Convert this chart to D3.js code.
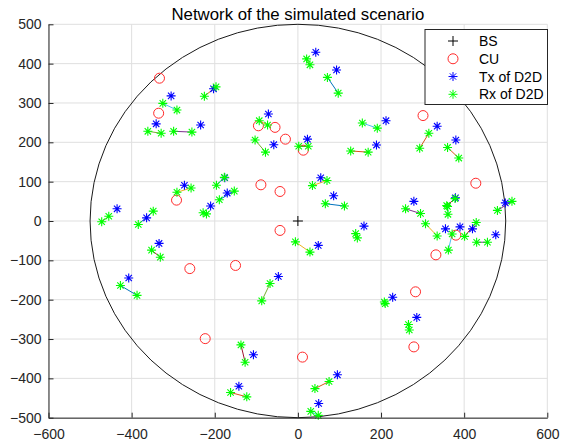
<!DOCTYPE html>
<html>
<head>
<meta charset="utf-8">
<script src="https://cdn.jsdelivr.net/npm/d3@7"></script>
<style>
body { margin: 0; background: #fff; }
svg { font-family: "Liberation Sans", Arial, sans-serif; }
</style>
</head>
<body>
<svg id="chart" width="578" height="443"></svg>
<script>
// data
var xTicks = [-600, -400, -200, 0, 200, 400, 600];
var yTicks = [-500, -400, -300, -200, -100, 0, 100, 200, 300, 400, 500];
var cellRadius = 500;
var bsPoints = [[0, 0]];
var cuPoints = [
  [-333, 363], [-335, 274], [-292, 53], [-89, 92], [-43, 75], [-43, -24],
  [-95, 242], [-55, 238], [-30, 208], [13, 180], [301, 268], [428, 96],
  [380, -36], [332, -86], [283, -180], [279, -320], [11, -346],
  [-150, -113], [-260, -121], [-223, -299]
];
var txPoints = [
  [-305, 318], [-341, 247], [-234, 244], [-203, 336], [-273, 91], [-435, 31],
  [-364, 8], [-176, 110], [-170, 71], [-210, 38], [-334, -57], [-407, -145],
  [-47, -141], [-107, -340], [-142, -420], [95, -391], [50, -464], [49, -62],
  [159, -13], [228, -194], [286, -245], [43, 429], [93, 384], [-71, 272],
  [-58, 194], [23, 208], [189, 193], [212, 255], [335, 241], [380, 206],
  [55, 110], [86, 64], [279, 50], [379, 59], [355, -20], [390, -15],
  [420, -20], [476, -35], [499, 46]
];
// receiver pairs, each joined by a line (plotted in this order)
var rxPairs = [
  [[-348, 25], [-384, -9]], [[-225, 317], [-197, 341]], [[-291, 73], [-257, 84]],
  [[-299, 228], [-255, 226]], [[-361, 228], [-329, 223]], [[-325, 299], [-291, 282]],
  [[-352, -74], [-331, -92]],
  [[-189, 54], [-153, 76]], [[-162, -436], [-123, -447]], [[-6, -53], [29, -79]],
  [[259, 31], [295, 19]], [[-455, 12], [-472, -2]], [[31, -484], [49, -494]],
  [[-137, -315], [-127, -359]],
  [[-427, -164], [-387, -189]], [[75, -408], [41, -426]], [[-93, 255], [-73, 244]],
  [[430, -54], [456, -54]], [[-67, -159], [-87, -203]], [[155, 249], [191, 236]],
  [[358, 39], [378, 57]],
  [[71, 365], [97, 325]], [[127, 178], [169, 175]], [[35, 90], [70, 103]],
  [[480, 27], [515, 50]], [[-103, 206], [-78, 175]], [[360, 37], [361, 17]],
  [[401, -39], [429, -4]],
  [[66, 44], [112, 38]], [[315, 223], [293, 185]], [[307, -7], [335, -38]],
  [[-228, 21], [-220, 18]], [[21, 412], [29, 397]], [[371, -33], [362, -74]],
  [[2, 190], [25, 190]],
  [[-177, 111], [-196, 91]], [[360, 187], [387, 160]], [[139, -32], [143, -43]],
  [[208, -206], [210, -210]], [[266, -263], [268, -277]]
];
var legendLabels = ["BS", "CU", "Tx of D2D", "Rx of D2D"];
var title = "Network of the simulated scenario";

var svg = d3.select("#chart");
var margin = {top: 24.3, right: 30.7, bottom: 25.3, left: 48.5};
var width = 578 - margin.left - margin.right;
var height = 443 - margin.top - margin.bottom;

var x = d3.scaleLinear().domain([-600, 600]).range([margin.left, margin.left + width]);
var y = d3.scaleLinear().domain([-500, 500]).range([margin.top + height, margin.top]);

var lineColor = d3.scaleOrdinal(["#0072BD", "#D95319", "#EDB120", "#7E2F8E",
                                 "#77AC30", "#4DBEEE", "#A2142F"]);

function starPath(r) {
  var d = r * Math.SQRT1_2;
  return "M" + (-r) + ",0L" + r + ",0M0," + (-r) + "L0," + r +
         "M" + (-d) + "," + (-d) + "L" + d + "," + d +
         "M" + (-d) + "," + d + "L" + d + "," + (-d);
}
function plusPath(r) {
  return "M" + (-r) + ",0L" + r + ",0M0," + (-r) + "L0," + r;
}

// grid
var grid = svg.append("g").attr("stroke", "#dfdfdf").attr("stroke-width", 1);
grid.selectAll(".gx").data(xTicks).enter().append("line")
  .attr("x1", function(d) { return x(d); }).attr("x2", function(d) { return x(d); })
  .attr("y1", y(-500)).attr("y2", y(500));
grid.selectAll(".gy").data(yTicks).enter().append("line")
  .attr("y1", function(d) { return y(d); }).attr("y2", function(d) { return y(d); })
  .attr("x1", x(-600)).attr("x2", x(600));

// cell boundary
svg.append("ellipse")
  .attr("cx", x(0)).attr("cy", y(0))
  .attr("rx", x(cellRadius) - x(0)).attr("ry", y(0) - y(cellRadius))
  .attr("fill", "none").attr("stroke", "#1a1a1a").attr("stroke-width", 1);

// links between receivers
svg.append("g").selectAll("line").data(rxPairs).enter().append("line")
  .attr("x1", function(d) { return x(d[0][0]); })
  .attr("y1", function(d) { return y(d[0][1]); })
  .attr("x2", function(d) { return x(d[1][0]); })
  .attr("y2", function(d) { return y(d[1][1]); })
  .attr("stroke", function(d, i) { return lineColor(i); })
  .attr("stroke-width", 1);

// BS
svg.append("g").selectAll("path").data(bsPoints).enter().append("path")
  .attr("transform", function(d) { return "translate(" + x(d[0]) + "," + y(d[1]) + ")"; })
  .attr("d", plusPath(5)).attr("stroke", "#000").attr("stroke-width", 1);

// CU
svg.append("g").selectAll("circle").data(cuPoints).enter().append("circle")
  .attr("cx", function(d) { return x(d[0]); })
  .attr("cy", function(d) { return y(d[1]); })
  .attr("r", 5).attr("fill", "none").attr("stroke", "#ff2a2a").attr("stroke-width", 1);

// Tx
svg.append("g").selectAll("path").data(txPoints).enter().append("path")
  .attr("transform", function(d) { return "translate(" + x(d[0]) + "," + y(d[1]) + ")"; })
  .attr("d", starPath(4.5)).attr("stroke", "#0000ff").attr("stroke-width", 1.1);

// Rx
var rxPoints = [];
rxPairs.forEach(function(p) { rxPoints.push(p[0], p[1]); });
svg.append("g").selectAll("path").data(rxPoints).enter().append("path")
  .attr("transform", function(d) { return "translate(" + x(d[0]) + "," + y(d[1]) + ")"; })
  .attr("d", starPath(4.5)).attr("stroke", "#00ff00").attr("stroke-width", 1.1);

// axes
var xAxis = svg.append("g")
  .attr("transform", "translate(0," + y(-500) + ")")
  .call(d3.axisBottom(x).tickValues(xTicks).tickSizeInner(-5).tickSizeOuter(0).tickPadding(11));
var yAxis = svg.append("g")
  .attr("transform", "translate(" + x(-600) + ",0)")
  .call(d3.axisLeft(y).tickValues(yTicks).tickSizeInner(-5).tickSizeOuter(0).tickPadding(7));
[xAxis, yAxis].forEach(function(a) {
  a.select(".domain").attr("stroke", "#262626");
  a.selectAll(".tick line").attr("stroke", "#262626");
  a.selectAll("text").attr("fill", "#262626").style("font-size", "14px")
    .style("font-family", "Liberation Sans, Arial, sans-serif");
});

// title
svg.append("text")
  .attr("x", x(0)).attr("y", 20)
  .attr("text-anchor", "middle")
  .style("font-size", "16.8px").attr("fill", "#000")
  .text(title);

// legend
var legend = svg.append("g");
legend.append("rect")
  .attr("x", 425).attr("y", 29.5).attr("width", 122.5).attr("height", 75)
  .attr("fill", "#fff").attr("stroke", "#262626").attr("stroke-width", 1);
var rowY = d3.scalePoint().domain(legendLabels).range([41, 94.3]);
var legendMarks = [
  {d: plusPath(5), stroke: "#000"},
  null,
  {d: starPath(4.5), stroke: "#0000ff"},
  {d: starPath(4.5), stroke: "#00ff00"}
];
legendLabels.forEach(function(lbl, i) {
  var cy = rowY(lbl);
  if (i === 1) {
    legend.append("circle").attr("cx", 453).attr("cy", cy).attr("r", 5)
      .attr("fill", "none").attr("stroke", "#ff2a2a");
  } else {
    legend.append("path").attr("transform", "translate(453," + cy + ")")
      .attr("d", legendMarks[i].d).attr("stroke", legendMarks[i].stroke);
  }
  legend.append("text").attr("x", 479).attr("y", cy + 5)
    .style("font-size", "14px").attr("fill", "#000").text(lbl);
});
</script>
</body>
</html>
